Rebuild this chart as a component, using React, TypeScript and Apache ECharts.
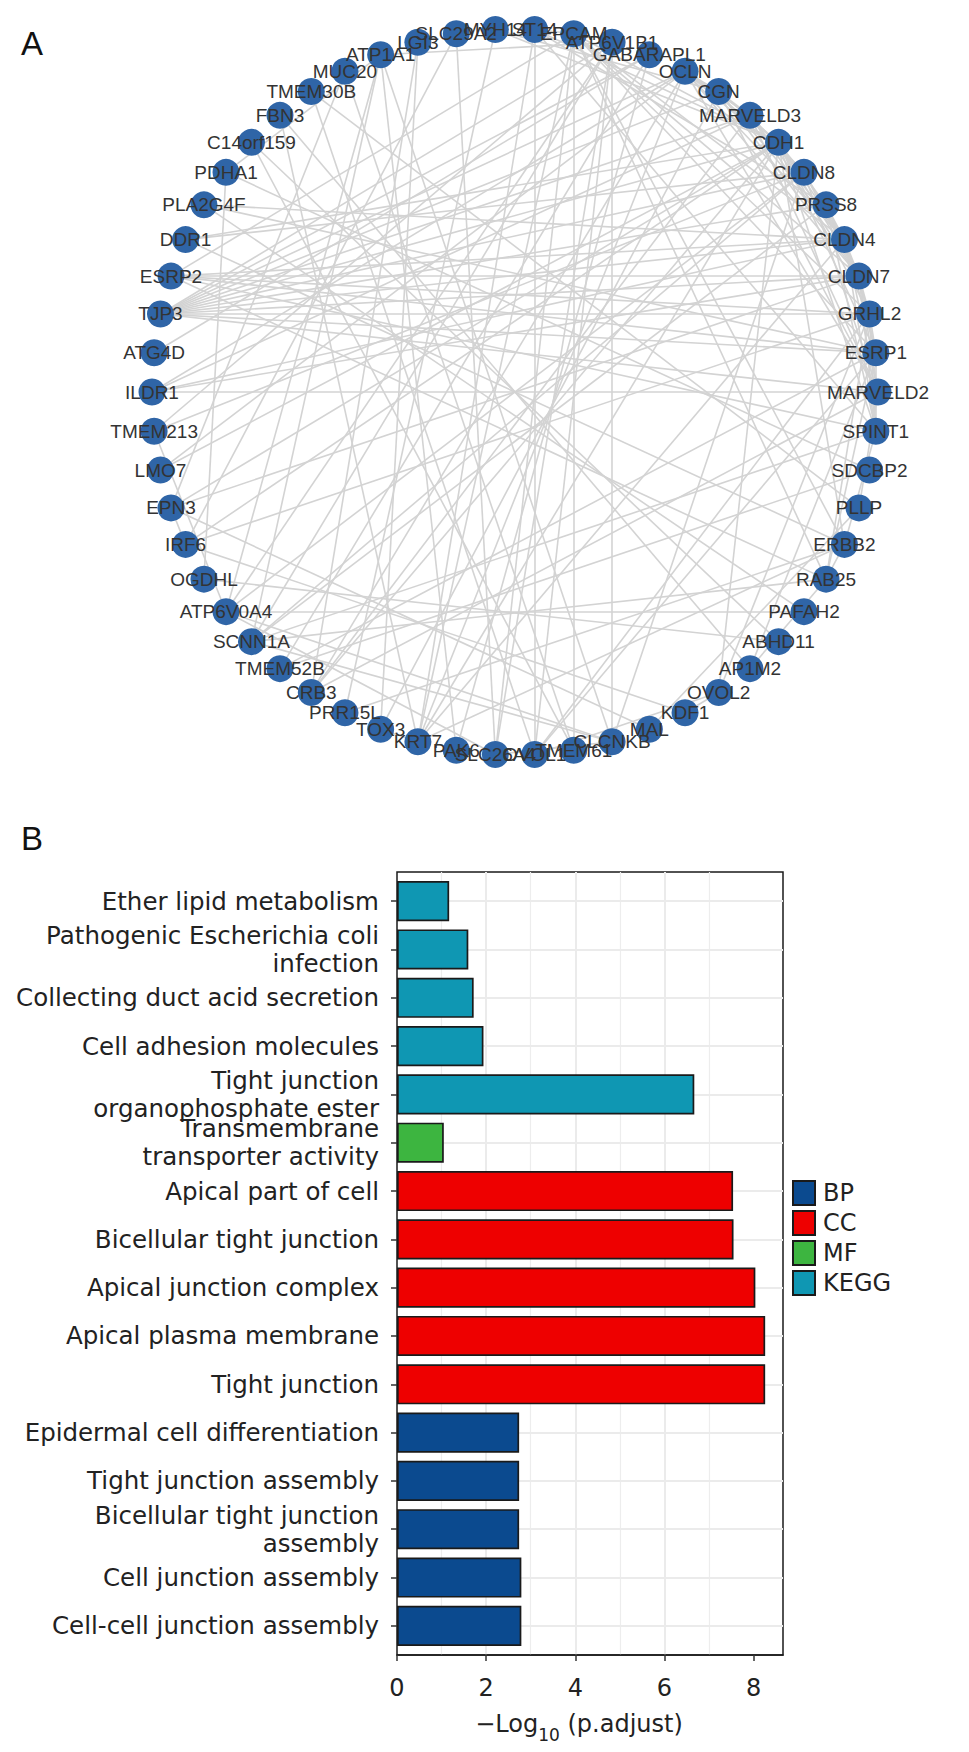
import React, { useEffect, useRef } from "react";
import * as echarts from "echarts";

// ---------- Panel A: network ----------
const genes = [
  "ST14", "EPCAM", "ATP6V1B1", "GABARAPL1", "OCLN", "CGN", "MARVELD3", "CDH1", "CLDN8", "PRSS8",
  "CLDN4", "CLDN7", "GRHL2", "ESRP1", "MARVELD2", "SPINT1", "SDCBP2", "PLLP", "ERBB2", "RAB25",
  "PAFAH2", "ABHD11", "AP1M2", "OVOL2", "KDF1", "MAL", "CLCNKB", "TMEM61", "OVOL1", "SLC26A4",
  "PAK6", "KRT7", "TOX3", "PRR15L", "CRB3", "TMEM52B", "SCNN1A", "ATP6V0A4", "OGDHL", "IRF6",
  "EPN3", "LMO7", "TMEM213", "ILDR1", "ATG4D", "TJP3", "ESRP2", "DDR1", "PLA2G4F", "PDHA1",
  "C14orf159", "FBN3", "TMEM30B", "MUC20", "ATP1A1", "LGI3", "SLC29A2", "MYH14",
];

const edges: [string, string][] = [
  ["TJP3", "OCLN"], ["TJP3", "CGN"], ["TJP3", "MARVELD3"], ["TJP3", "CDH1"], ["TJP3", "CLDN8"],
  ["TJP3", "PRSS8"], ["TJP3", "CLDN4"], ["TJP3", "CLDN7"], ["TJP3", "GRHL2"], ["TJP3", "ESRP1"],
  ["TJP3", "MARVELD2"], ["TJP3", "GABARAPL1"], ["TJP3", "ATP6V1B1"],
  ["ESRP2", "ESRP1"], ["ESRP2", "GRHL2"], ["ESRP2", "CLDN7"], ["ESRP2", "CLDN4"], ["ESRP2", "RAB25"],
  ["ESRP2", "EPCAM"], ["ESRP2", "SPINT1"],
  ["DDR1", "CDH1"], ["DDR1", "ERBB2"], ["DDR1", "CLDN8"],
  ["PLA2G4F", "PAFAH2"], ["PLA2G4F", "ESRP1"], ["PLA2G4F", "CLDN4"],
  ["PDHA1", "OGDHL"], ["PDHA1", "ATP1A1"], ["PDHA1", "SDCBP2"],
  ["C14orf159", "ABHD11"], ["C14orf159", "TMEM61"],
  ["FBN3", "AP1M2"], ["FBN3", "KRT7"],
  ["TMEM30B", "OVOL1"], ["TMEM30B", "PLLP"],
  ["MUC20", "TMEM61"], ["MUC20", "EPN3"],
  ["ATP1A1", "SCNN1A"], ["ATP1A1", "ATP6V1B1"], ["ATP1A1", "CLCNKB"], ["ATP1A1", "ATP6V0A4"], ["ATP1A1", "PAK6"],
  ["LGI3", "TOX3"], ["LGI3", "CRB3"],
  ["SLC29A2", "SLC26A4"], ["SLC29A2", "IRF6"],
  ["MYH14", "CDH1"], ["MYH14", "CGN"], ["MYH14", "PRR15L"],
  ["ST14", "SPINT1"], ["ST14", "PRSS8"], ["ST14", "EPCAM"], ["ST14", "CDH1"], ["ST14", "KRT7"], ["ST14", "OVOL1"],
  ["EPCAM", "CDH1"], ["EPCAM", "CLDN4"], ["EPCAM", "CLDN7"], ["EPCAM", "ESRP1"], ["EPCAM", "GRHL2"],
  ["EPCAM", "KRT7"], ["EPCAM", "RAB25"], ["EPCAM", "ERBB2"], ["EPCAM", "TMEM61"], ["EPCAM", "SLC26A4"],
  ["ATP6V1B1", "ATP6V0A4"], ["ATP6V1B1", "CLCNKB"], ["ATP6V1B1", "SCNN1A"], ["ATP6V1B1", "SLC26A4"],
  ["ATP6V1B1", "TMEM213"], ["ATP6V1B1", "OVOL1"],
  ["GABARAPL1", "ATG4D"], ["GABARAPL1", "PAK6"], ["GABARAPL1", "TMEM52B"],
  ["OCLN", "CLDN4"], ["OCLN", "CLDN7"], ["OCLN", "CLDN8"], ["OCLN", "CGN"], ["OCLN", "MARVELD2"],
  ["OCLN", "MARVELD3"], ["OCLN", "CDH1"], ["OCLN", "ILDR1"], ["OCLN", "CRB3"], ["OCLN", "LMO7"], ["OCLN", "KRT7"],
  ["CGN", "CLDN4"], ["CGN", "MARVELD3"], ["CGN", "MARVELD2"], ["CGN", "CDH1"], ["CGN", "CLDN7"], ["CGN", "TOX3"],
  ["MARVELD3", "MARVELD2"], ["MARVELD3", "CLDN4"], ["MARVELD3", "CLDN7"], ["MARVELD3", "ILDR1"],
  ["MARVELD3", "CRB3"], ["MARVELD3", "CLDN8"],
  ["CDH1", "CLDN4"], ["CDH1", "CLDN7"], ["CDH1", "ERBB2"], ["CDH1", "ESRP1"], ["CDH1", "GRHL2"],
  ["CDH1", "SPINT1"], ["CDH1", "KRT7"], ["CDH1", "IRF6"], ["CDH1", "OVOL2"], ["CDH1", "LMO7"],
  ["CDH1", "EPN3"], ["CDH1", "CRB3"], ["CDH1", "PRSS8"],
  ["CLDN8", "CLDN4"], ["CLDN8", "CLDN7"], ["CLDN8", "SCNN1A"], ["CLDN8", "CLCNKB"], ["CLDN8", "ATP6V0A4"],
  ["CLDN8", "TMEM213"], ["CLDN8", "MARVELD2"],
  ["PRSS8", "SPINT1"], ["PRSS8", "SCNN1A"], ["PRSS8", "CLDN4"], ["PRSS8", "CLDN7"],
  ["CLDN4", "CLDN7"], ["CLDN4", "MARVELD2"], ["CLDN4", "GRHL2"], ["CLDN4", "ESRP1"], ["CLDN4", "ILDR1"],
  ["CLDN4", "KRT7"], ["CLDN4", "SPINT1"],
  ["CLDN7", "GRHL2"], ["CLDN7", "ESRP1"], ["CLDN7", "MARVELD2"], ["CLDN7", "ILDR1"], ["CLDN7", "EPN3"], ["CLDN7", "SPINT1"],
  ["GRHL2", "ESRP1"], ["GRHL2", "OVOL2"], ["GRHL2", "OVOL1"], ["GRHL2", "RAB25"], ["GRHL2", "SPINT1"], ["GRHL2", "IRF6"],
  ["ESRP1", "RAB25"], ["ESRP1", "SPINT1"], ["ESRP1", "OVOL1"], ["ESRP1", "AP1M2"], ["ESRP1", "TMEM52B"],
  ["MARVELD2", "ILDR1"], ["MARVELD2", "CRB3"], ["MARVELD2", "PLLP"],
  ["SPINT1", "SCNN1A"], ["SPINT1", "ERBB2"],
  ["SDCBP2", "TMEM52B"], ["PLLP", "MAL"], ["ERBB2", "RAB25"], ["ERBB2", "KRT7"], ["ERBB2", "PRR15L"],
  ["RAB25", "AP1M2"], ["RAB25", "SCNN1A"], ["PAFAH2", "ATP6V0A4"], ["ABHD11", "OGDHL"], ["OVOL2", "KDF1"],
  ["KDF1", "IRF6"], ["MAL", "EPN3"], ["CLCNKB", "SCNN1A"], ["CLCNKB", "ATP6V0A4"], ["SLC26A4", "ATP6V0A4"],
  ["SLC26A4", "CLCNKB"], ["OVOL1", "OVOL2"], ["TOX3", "KRT7"], ["TMEM213", "ATP6V0A4"], ["IRF6", "EPN3"],
];

// ---------- Panel B: enrichment bars ----------
const categories = [
  "Ether lipid metabolism",
  "Pathogenic Escherichia coli\ninfection",
  "Collecting duct acid secretion",
  "Cell adhesion molecules",
  "Tight junction\norganophosphate ester",
  "Transmembrane\ntransporter activity",
  "Apical part of cell",
  "Bicellular tight junction",
  "Apical junction complex",
  "Apical plasma membrane",
  "Tight junction",
  "Epidermal cell differentiation",
  "Tight junction assembly",
  "Bicellular tight junction\nassembly",
  "Cell junction assembly",
  "Cell-cell junction assembly",
];
const values = [1.17, 1.6, 1.72, 1.94, 6.67, 1.05, 7.54, 7.55, 8.04, 8.26, 8.26, 2.74, 2.74, 2.74, 2.79, 2.79];
const groups = ["KEGG", "KEGG", "KEGG", "KEGG", "KEGG", "MF", "CC", "CC", "CC", "CC", "CC", "BP", "BP", "BP", "BP", "BP"];
const groupNames = ["BP", "CC", "MF", "KEGG"];
const groupColors = ["#0b4a8f", "#ee0000", "#3db540", "#0f97b3"];
const xTickValues = [0, 2, 4, 6, 8];
const xMax = 8.66;

const FONT_B = "DejaVu Sans";

export default function App() {
  const ref = useRef<HTMLDivElement>(null);

  useEffect(() => {
    if (!ref.current) return;
    const chart = echarts.init(ref.current, null, { renderer: "svg" });

    const barSeries = groupNames.map((g, gi) => ({
      type: "bar",
      name: g,
      xAxisIndex: 0,
      yAxisIndex: 0,
      data: values.map((v, i) => (groups[i] === g ? v : "-")),
      barWidth: "83%",
      barGap: "-100%",
      itemStyle: { color: groupColors[gi], borderColor: "#1a1a1a", borderWidth: 1.7 },
      silent: true,
      z: 3,
    }));

    const option: any = {
      animation: false,
      backgroundColor: "#ffffff",
      textStyle: { fontFamily: FONT_B },
      polar: { center: [515, 392], radius: 363 },
      angleAxis: {
        type: "category",
        data: genes,
        startAngle: 90,
        clockwise: true,
        boundaryGap: true,
        axisLine: { show: false },
        axisTick: { show: false },
        axisLabel: { show: false },
        splitLine: { show: false },
        splitArea: { show: false },
      },
      radiusAxis: {
        type: "value",
        min: 0,
        max: 1,
        axisLine: { show: false },
        axisTick: { show: false },
        axisLabel: { show: false },
        splitLine: { show: false },
        splitArea: { show: false },
      },
      grid: [
        { left: 397, top: 877, width: 386, height: 773, show: false },
        {
          left: 397,
          top: 872,
          width: 386,
          height: 783,
          show: true,
          borderColor: "#1a1a1a",
          borderWidth: 1.5,
          backgroundColor: "transparent",
        },
      ],
      xAxis: [
        { gridIndex: 0, type: "value", min: 0, max: xMax, show: false },
        {
          gridIndex: 1,
          type: "value",
          min: 0,
          max: xMax,
          interval: 2,
          position: "bottom",
          axisLine: { show: true, onZero: false, lineStyle: { color: "#1a1a1a", width: 1.5 } },
          axisTick: {
            show: true,
            inside: false,
            length: 6,
            customValues: xTickValues,
            lineStyle: { color: "#333", width: 1.5 },
          },
          axisLabel: {
            show: true,
            fontSize: 24,
            color: "#222",
            margin: 21,
            fontFamily: FONT_B,
            customValues: xTickValues,
          },
          splitLine: {
            show: true,
            showMinLine: false,
            showMaxLine: false,
            lineStyle: { color: "#ebebeb", width: 2 },
          },
          minorTick: { show: false, splitNumber: 2 },
          minorSplitLine: { show: true, lineStyle: { color: "#ededed", width: 1.2 } },
          name: "{a|−Log}{sub|10}{a| (p.adjust)}",
          nameLocation: "middle",
          nameGap: 50,
          nameTextStyle: {
            padding: [0, 22, 0, 0],
            rich: {
              a: { fontSize: 24, color: "#222", fontFamily: FONT_B, lineHeight: 24 },
              sub: { fontSize: 17, color: "#222", fontFamily: FONT_B, lineHeight: 38, verticalAlign: "bottom" },
            },
          },
        },
      ],
      yAxis: [
        {
          gridIndex: 0,
          type: "category",
          data: categories,
          inverse: true,
          axisLine: { show: false },
          axisTick: { show: true, alignWithLabel: true, length: 6, lineStyle: { color: "#333", width: 1.5 } },
          axisLabel: { fontSize: 24.5, color: "#222", margin: 18, lineHeight: 28, fontFamily: FONT_B },
          splitLine: { show: false },
        },
        {
          gridIndex: 1,
          type: "value",
          min: 0,
          max: 1,
          show: false,
          splitLine: { show: false },
        },
      ],
      legend: {
        data: groupNames,
        orient: "vertical",
        left: 792,
        top: 1180,
        padding: 0,
        itemWidth: 22,
        itemHeight: 24,
        itemGap: 4,
        icon: "rect",
        selectedMode: false,
        textStyle: { fontSize: 24, lineHeight: 24, color: "#222", fontFamily: FONT_B, padding: [0, 0, 0, 3] },
      },
      graphic: [
        {
          type: "text",
          left: 21,
          top: 27,
          style: { text: "A", font: "33px 'Liberation Sans'", fill: "#111" },
        },
        {
          type: "text",
          left: 21,
          top: 822,
          style: { text: "B", font: "33px 'Liberation Sans'", fill: "#111" },
        },
      ],
      series: [
        {
          type: "graph",
          coordinateSystem: "polar",
          polarIndex: 0,
          layout: "none",
          data: genes.map((g) => ({ name: g, value: [1, g] })),
          links: edges.map(([s, t]) => ({ source: s, target: t })),
          symbol: "circle",
          symbolSize: 27,
          itemStyle: { color: "#2f65a7" },
          label: {
            show: true,
            position: "inside",
            fontSize: 19,
            color: "#333",
            fontFamily: "Liberation Sans",
          },
          lineStyle: { color: "#d3d3d3", width: 1.6, opacity: 1, curveness: 0 },
          silent: true,
          z: 2,
        },
        {
          type: "line",
          xAxisIndex: 0,
          yAxisIndex: 0,
          data: [],
          silent: true,
          z: 1,
          markLine: {
            silent: true,
            z: 1,
            symbol: ["none", "none"],
            label: { show: false },
            lineStyle: { color: "#ebebeb", width: 2, type: "solid" },
            data: categories.map((_, i) => ({ yAxis: i })),
          },
        },
        ...barSeries,
      ],
    };

    chart.setOption(option);
    return () => chart.dispose();
  }, []);

  return (
    <div
      ref={ref}
      style={{ position: "absolute", left: 0, top: 0, width: 969, height: 1752, background: "#fff" }}
    />
  );
}
